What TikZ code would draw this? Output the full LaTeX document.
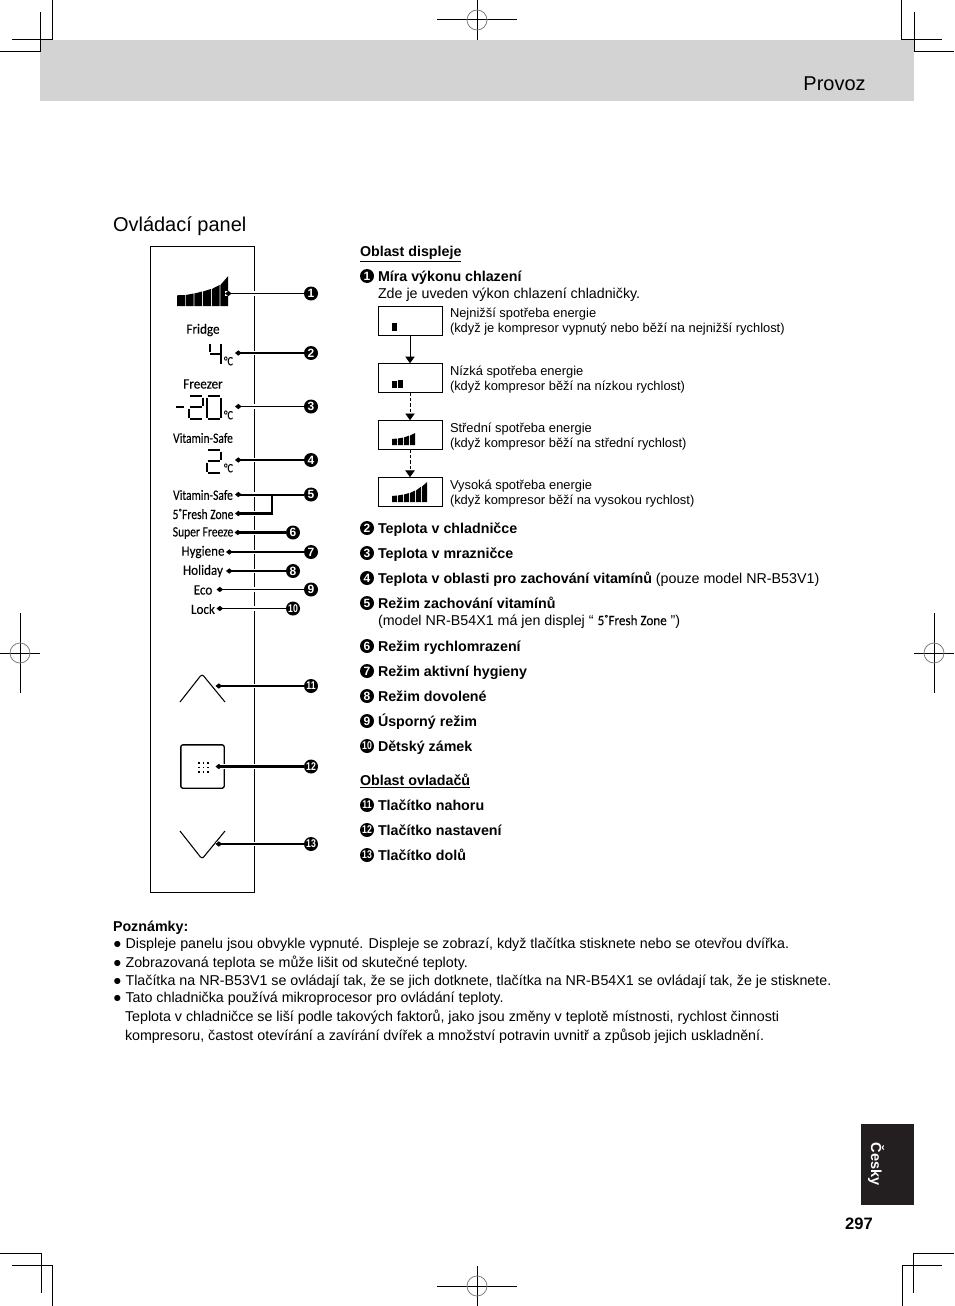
\documentclass[tikz,border=0pt]{standalone}
\usepackage{fontspec}
\setmainfont{Liberation Sans}
\newfontfamily\lcdfont[FakeStretch=0.92,FakeBold=0.08]{Carlito}
\newfontfamily\lcdnarrow[FakeStretch=0.81,FakeBold=0.08]{Carlito}
\newfontfamily\numfont[FakeStretch=0.78]{Liberation Sans}
\usepackage{xcolor}
\usetikzlibrary{positioning,arrows.meta}

\definecolor{bandgray}{HTML}{D3D3D3}
\definecolor{tabblack}{HTML}{231F20}

\newcommand{\levelbars}[3]{%
  \foreach \xa/\ya/\yb in {#3} {\fill[black] (\xa,#2) -- (\xa,\ya) -- (\xa+#1,\yb) -- (\xa+#1,#2) -- cycle;}}
\newcommand{\regmark}[4]{%
  \draw[trim] (#1-#3,#2) -- (#1+#3,#2);
  \draw[trim] (#1,#2-#4) -- (#1,#2+#4);
  \draw[gray, line width=0.6pt] (#1,#2) circle (10);}

\begin{document}
\begin{tikzpicture}[
    x=0.75pt, y=-0.75pt,
    trim/.style={line width=0.75pt, black},
    panelbox/.style={rectangle, draw, line width=0.8pt, inner sep=0pt, outer sep=0pt, minimum width=78pt, minimum height=484.5pt},
    levelbox/.style={rectangle, draw, line width=0.7pt, inner sep=0pt, outer sep=0pt, minimum width=48pt, minimum height=22pt},
    numdot/.style={circle, fill=black, text=white, inner sep=0pt, outer sep=0pt, minimum size=10.5pt, font=\fontsize{9}{9}\selectfont\bfseries},
    numwide/.style={numdot, font=\fontsize{8.4}{8}\numfont\bfseries},
    rowtext/.style={anchor=west, inner sep=0pt, outer sep=0pt, text height=7.7pt, text depth=0pt, font=\fontsize{10.7}{13}\selectfont},
    smalltext/.style={align=left, inner sep=0pt, outer sep=0pt, font=\fontsize{9.67}{11.25}\selectfont},
    lcdlabel/.style={inner sep=0pt, outer sep=0pt, font=\fontsize{10.7}{12}\lcdfont},
    lcdtight/.style={lcdlabel, font=\fontsize{10.7}{12}\lcdnarrow},
    lcdunit/.style={lcdlabel, font=\fontsize{9.5}{10}\lcdnarrow},
    lcdseg/.style={line width=2pt, black},
    lead/.style={preaction={draw=white, -, line width=3.6pt}, -{Diamond[length=5pt, width=4pt]}, line width=1.9pt},
    flow/.style={-{Triangle[length=5pt, width=7pt]}, line width=0.65pt},
    flowdash/.style={flow, dash pattern=on 2.5pt off 1.5pt}
]
\useasboundingbox (0,0) rectangle (954,1306);

% page furniture
\node[rectangle, fill=bandgray, inner sep=0pt, minimum width=655.5pt, minimum height=45.75pt] (band) at (477,70.5) {};
\node[anchor=east, inner sep=0pt, font=\fontsize{15}{18}\selectfont] (pagetitle) at (866,84) {Provoz};
\node[rowtext, text height=10.7pt, font=\fontsize{15}{18}\selectfont] (paneltitle) at (113,224) {Ovládací panel};
\node[rectangle, fill=tabblack, inner sep=0pt, minimum width=39.6pt, minimum height=60.75pt] (tab) at (887.3,1164.5) {};
\node[rotate=-90, text=white, inner sep=0pt, font=\fontsize{10.9}{12}\selectfont\bfseries] (tablabel) at (876,1164) {Česky};
\node[anchor=east, inner sep=0pt, font=\fontsize{12.4}{14}\selectfont\bfseries] (pagenum) at (873,1224) {297};

\draw[trim] (52,0) -- (52,40) -- (12,40);
\draw[trim] (40,12) -- (40,52) -- (0,52);
\draw[trim] (901,0) -- (901,40) -- (942,40);
\draw[trim] (914,12) -- (914,52) -- (954,52);
\draw[trim] (0,1253) -- (41,1253) -- (41,1293);
\draw[trim] (12,1265) -- (52,1265) -- (52,1306);
\draw[trim] (954,1253) -- (913,1253) -- (913,1293);
\draw[trim] (942,1265) -- (902,1265) -- (902,1306);
\regmark{477}{20}{40}{20}
\regmark{477}{1286}{40}{20}
\regmark{20}{653}{20}{40}
\regmark{934}{653}{20}{40}

% panel
\node[panelbox] (panel) at (202.5,569.5) {};
\levelbars{7.8}{306}{177/295.3/295, 185.7/295/293.5, 194.4/293.5/291.5, 203/291.5/289, 211.8/289/285, 220.4/285/276}

\node[lcdlabel] (fridge) at (203,330) {Fridge};
\node[lcdlabel] (freezer) at (203,384) {Freezer};
\node[lcdtight] (safe) at (203,438) {Vitamin-Safe};
\node[lcdtight] (safetoo) at (203,495) {Vitamin-Safe};
\node[lcdtight] (zone) at (203,514) {5˚Fresh Zone};
\node[lcdtight] (freeze) at (203,533) {Super Freeze};
\node[lcdlabel] (hygiene) at (203,552) {Hygiene};
\node[lcdlabel] (holiday) at (203,571) {Holiday};
\node[lcdlabel] (eco) at (203,590) {Eco};
\node[lcdlabel] (lock) at (203,609) {Lock};

\node[lcdunit] (unitA) at (228.5,361) {°C};
\node[lcdunit] (unitB) at (228.5,415) {°C};
\node[lcdunit] (unitC) at (228.5,468) {°C};

% digit 4
\draw[lcdseg] (210,344) -- (210,352);
\draw[lcdseg] (210,354) -- (219.5,354);
\draw[lcdseg] (221,344) -- (221,364);
% digits -20
\draw[lcdseg] (176,407) -- (184,407);
\draw[lcdseg] (190,396) -- (202,396);
\draw[lcdseg] (203,397.5) -- (203,405.5);
\draw[lcdseg] (190,407) -- (202,407);
\draw[lcdseg] (189,408.5) -- (189,417.5);
\draw[lcdseg] (190,419) -- (202,419);
\draw[lcdseg] (208,396) -- (220,396);
\draw[lcdseg] (221,397.5) -- (221,417.5);
\draw[lcdseg] (208,419) -- (220,419);
\draw[lcdseg] (207,397.5) -- (207,417.5);
% digit 2
\draw[lcdseg] (208,450) -- (220,450);
\draw[lcdseg] (221,451.5) -- (221,459.5);
\draw[lcdseg] (208,461) -- (220,461);
\draw[lcdseg] (207,462.5) -- (207,471.5);
\draw[lcdseg] (208,473) -- (220,473);

% buttons
\draw[line width=0.8pt, rounded corners=2pt] (180,702) -- (202,674) -- (225,702);
\draw[line width=0.8pt, rounded corners=2pt] (180,831) -- (202,859) -- (225,831);
\node[rectangle, draw, line width=1pt, rounded corners=1.5pt, inner sep=0pt, minimum width=32.5pt, minimum height=32.5pt] (setbtn) at (202.5,766.5) {};
\foreach \dx in {198,202.5,207} {\foreach \dy in {762,766.5,771} {\fill (\dx,\dy) rectangle ++(1.6,1.6);}}

% numbers and leaders
\node[numdot] (numA) at (311,293.5) {1};
\node[numdot] (numB) at (311,353) {2};
\node[numdot] (numC) at (311,406.5) {3};
\node[numdot] (numD) at (311,460) {4};
\node[numdot] (numE) at (311,494.5) {5};
\node[numdot] (numF) at (293,532.5) {6};
\node[numdot] (numG) at (311,552) {7};
\node[numdot] (numH) at (293,571) {8};
\node[numdot] (numI) at (311,589.5) {9};
\node[numwide] (numJ) at (293,608.5) {10};
\node[numwide] (numK) at (311,686) {11};
\node[numwide] (numL) at (311,766.5) {12};
\node[numwide] (numM) at (311,844) {13};

\coordinate (tipA) at (225,293.5);
\coordinate (tipB) at (235,353);
\coordinate (tipC) at (235,406.5);
\coordinate (tipD) at (235,460);
\coordinate (tipE) at (235,494.5);
\coordinate (tipZ) at (235,513.5);
\coordinate (tipF) at (234.5,532.5);
\coordinate (tipG) at (226,552);
\coordinate (tipH) at (226,571);
\coordinate (tipI) at (216.5,589.5);
\coordinate (tipJ) at (216.5,608.5);
\coordinate (tipK) at (215.5,686);
\coordinate (tipL) at (215.5,766.5);
\coordinate (tipM) at (215.5,844);
\coordinate (forkE) at (272,494.5);
\coordinate (forkF) at (272,502);

\draw[lead] (forkE) |- (tipZ);
\draw[lead, line width=1.3pt] (numA) -- (tipA);
\draw[lead] (numB) -- (tipB);
\draw[lead, line width=1.3pt] (numC) -- (tipC);
\draw[lead] (numD) -- (tipD);
\draw[lead, line width=1.5pt] (numE) -- (tipE);
\draw[line width=1.9pt] (forkE) -- (forkF);
\draw[lead] (numF) -- (tipF);
\draw[lead] (numG) -- (tipG);
\draw[lead] (numH) -- (tipH);
\draw[lead, line width=1.1pt] (numI) -- (tipI);
\draw[lead, line width=1.3pt] (numJ) -- (tipJ);
\draw[lead, line width=1.2pt] (numK) -- (tipK);
\draw[lead] (numL) -- (tipL);
\draw[lead, line width=1.5pt] (numM) -- (tipM);

% display area
\node[rowtext, font=\fontsize{10.7}{13}\selectfont\bfseries] (headA) at (360,251) {\underline{Oblast displeje}};
\node[numdot] (rowA) at (367,276) {1};
\node[rowtext, right=3pt of rowA] (textA) {\textbf{Míra výkonu chlazení}};
\node[rowtext] (textAb) at (378,293) {Zde je uveden výkon chlazení chladničky.};

\node[levelbox] (boxA) at (410,321) {};
\node[levelbox, below=20.7pt of boxA] (boxB) {};
\node[levelbox, below=20.7pt of boxB] (boxC) {};
\node[levelbox, below=20.7pt of boxC] (boxD) {};
\draw[flow] (boxA) -- (boxB);
\draw[flowdash] (boxB) -- (boxC);
\draw[flowdash] (boxC) -- (boxD);

\levelbars{4.6}{331}{392/323/323}
\levelbars{5}{388}{392/381/381, 398/380/380}
\levelbars{5.2}{445}{392/439/438.5, 398/438.5/437.5, 404/437.5/435.5, 410/435.5/433}
\levelbars{5.2}{502}{392/496/495.5, 398/495.5/494.5, 404/494.5/493, 410/493/490.5, 416/490.5/486.5, 422/486.5/482}

\node[smalltext, right=6pt of boxA, yshift=-0.6pt] (descA) {Nejnižší spotřeba energie\\(když je kompresor vypnutý nebo běží na nejnižší rychlost)};
\node[smalltext, right=6pt of boxB, yshift=-1pt] (descB) {Nízká spotřeba energie\\(když kompresor běží na nízkou rychlost)};
\node[smalltext, right=6pt of boxC, yshift=-1pt] (descC) {Střední spotřeba energie\\(když kompresor běží na střední rychlost)};
\node[smalltext, right=6pt of boxD, yshift=-1.6pt] (descD) {Vysoká spotřeba energie\\(když kompresor běží na vysokou rychlost)};

\node[numdot] (rowB) at (367,528) {2};
\node[rowtext, right=3pt of rowB] (textB) {\textbf{Teplota v chladničce}};
\node[numdot, below=8.25pt of rowB] (rowC) {3};
\node[rowtext, right=3pt of rowC] (textC) {\textbf{Teplota v mrazničce}};
\node[numdot, below=8.25pt of rowC] (rowD) {4};
\node[rowtext, right=3pt of rowD] (textD) {\textbf{Teplota v oblasti pro zachování vitamínů} (pouze model NR-B53V1)};
\node[numdot, below=8.25pt of rowD] (rowE) {5};
\node[rowtext, right=3pt of rowE] (textE) {\textbf{Režim zachování vitamínů}};
\node[rowtext] (textEb) at (378,620) {(model NR-B54X1 má jen displej “ {\lcdfont\fontsize{10.7}{12}\selectfont 5˚Fresh Zone} ”)};
\node[numdot] (rowF) at (367,646) {6};
\node[rowtext, right=3pt of rowF] (textF) {\textbf{Režim rychlomrazení}};
\node[numdot, below=8.25pt of rowF] (rowG) {7};
\node[rowtext, right=3pt of rowG] (textG) {\textbf{Režim aktivní hygieny}};
\node[numdot, below=8.25pt of rowG] (rowH) {8};
\node[rowtext, right=3pt of rowH] (textH) {\textbf{Režim dovolené}};
\node[numdot, below=8.25pt of rowH] (rowI) {9};
\node[rowtext, right=3pt of rowI] (textI) {\textbf{Úsporný režim}};
\node[numwide, below=8.25pt of rowI] (rowJ) {10};
\node[rowtext, right=3pt of rowJ] (textJ) {\textbf{Dětský zámek}};

% control area
\node[rowtext, font=\fontsize{10.7}{13}\selectfont\bfseries] (headB) at (360,780) {\underline{Oblast ovladačů}};
\node[numwide] (rowK) at (367,805) {11};
\node[rowtext, right=3pt of rowK] (textK) {\textbf{Tlačítko nahoru}};
\node[numwide, below=8.25pt of rowK] (rowL) {12};
\node[rowtext, right=3pt of rowL] (textL) {\textbf{Tlačítko nastavení}};
\node[numwide, below=8.25pt of rowL] (rowM) {13};
\node[rowtext, right=3pt of rowM] (textM) {\textbf{Tlačítko dolů}};

% notes
\node[rowtext] (noteA) at (113,926) {\textbf{Poznámky:}};
\node[rowtext] (noteB) at (113,943) {● Displeje panelu jsou obvykle vypnuté. Displeje se zobrazí, když tlačítka stisknete nebo se otevřou dvířka.};
\node[rowtext] (noteC) at (113,962) {● Zobrazovaná teplota se může lišit od skutečné teploty.};
\node[rowtext] (noteD) at (113,980) {● Tlačítka na NR-B53V1 se ovládají tak, že se jich dotknete, tlačítka na NR-B54X1 se ovládají tak, že je stisknete.};
\node[rowtext] (noteE) at (113,997) {● Tato chladnička používá mikroprocesor pro ovládání teploty.};
\node[rowtext] (noteF) at (125,1016) {Teplota v chladničce se liší podle takových faktorů, jako jsou změny v teplotě místnosti, rychlost činnosti};
\node[rowtext] (noteG) at (125,1035) {kompresoru, častost otevírání a zavírání dvířek a množství potravin uvnitř a způsob jejich uskladnění.};

\end{tikzpicture}
\end{document}
